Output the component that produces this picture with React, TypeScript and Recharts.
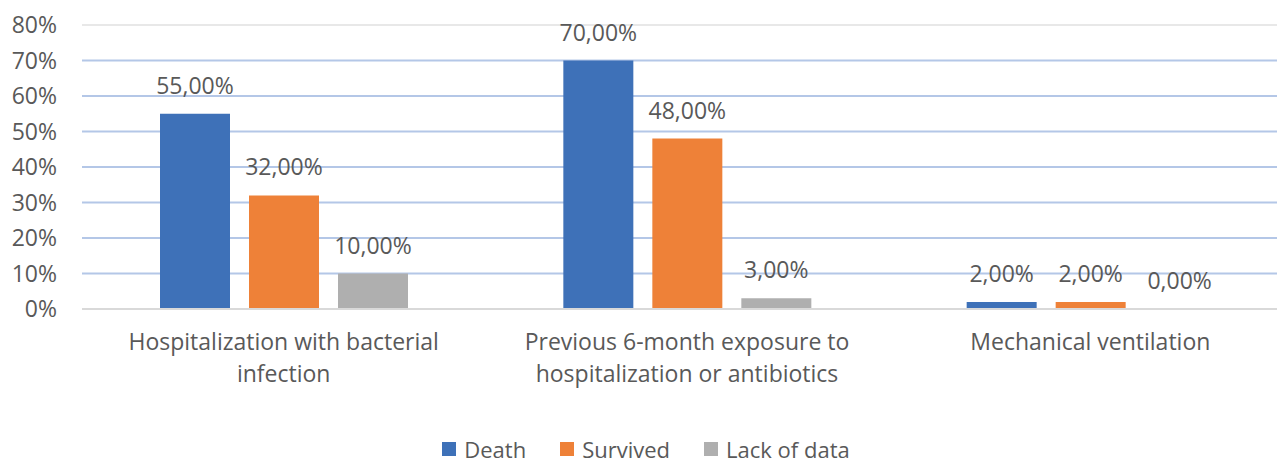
import { BarChart, Bar, XAxis, YAxis, CartesianGrid, Legend, LabelList, ReferenceLine } from 'recharts';

const categories = [
  'Hospitalization with bacterial|infection',
  'Previous 6-month exposure to|hospitalization or antibiotics',
  'Mechanical ventilation',
];
const death = [55, 70, 2];
const survived = [32, 48, 2];
const lackOfData = [10, 3, 0];
const yTicks = [0, 10, 20, 30, 40, 50, 60, 70, 80];

const seriesInfo = [
  { key: 'death', name: 'Death', color: '#3E71B8' },
  { key: 'survived', name: 'Survived', color: '#EE8138' },
  { key: 'lack', name: 'Lack of data', color: '#AFAFAF' },
];

const data = categories.map((c, i) => ({
  category: c,
  death: death[i],
  survived: survived[i],
  lack: lackOfData[i],
}));

const FONT = '"Open Sans", Lato, sans-serif';
const FS = 23;
const fmt = (v: number) => `${v.toFixed(2).replace('.', ',')}%`;

function CategoryTick({ x, y, payload }: any) {
  const lines = String(payload.value).split('|');
  return (
    <text x={x} y={y} textAnchor="middle" fill="#595959" fontSize={FS} fontFamily={FONT}>
      {lines.map((l, i) => (
        <tspan key={i} x={x} dy={i === 0 ? 41 : 32}>
          {l}
        </tspan>
      ))}
    </text>
  );
}

function LegendContent() {
  return (
    <div style={{ display: 'flex', justifyContent: 'center', alignItems: 'center', gap: 34, paddingTop: 2, height: 28, lineHeight: '28px', fontFamily: FONT, fontSize: 22, color: '#595959' }}>
      {seriesInfo.map((s) => (
        <div key={s.key} style={{ display: 'flex', alignItems: 'center', gap: 8 }}>
          <span style={{ display: 'inline-block', width: 14, height: 14, background: s.color }} />
          <span>{s.name}</span>
        </div>
      ))}
    </div>
  );
}

export default function App() {
  return (
    <div style={{ position: 'absolute', left: 0, top: 0, width: 1277, height: 465, overflow: 'hidden', background: '#fff' }}>
      <BarChart
        width={1300}
        height={465}
        data={data}
        margin={{ top: 25, right: 8, bottom: 0, left: 0 }}
        barGap={19}
      >
        <CartesianGrid vertical={false} stroke="#B4C7E7" strokeWidth={2} />
        <XAxis
          dataKey="category"
          height={124}
          tickLine={false}
          tickSize={0}
          tickMargin={0}
          axisLine={{ stroke: '#D9D9D9', strokeWidth: 2 }}
          tick={<CategoryTick />}
          interval={0}
        />
        <YAxis
          width={82}
          domain={[0, 80]}
          ticks={yTicks}
          interval={0}
          tickFormatter={(v: number) => `${v}%`}
          axisLine={false}
          tickLine={false}
          tickSize={0}
          tickMargin={25}
          tick={{ fill: '#595959', fontSize: FS, fontFamily: FONT }}
        />
        <ReferenceLine y={80} stroke="#E8E8E8" strokeWidth={2} />
        <Legend verticalAlign="bottom" height={32} content={<LegendContent />} />
        {seriesInfo.map((s) => (
          <Bar key={s.key} dataKey={s.key} name={s.name} fill={s.color} barSize={70} minPointSize={0.01} isAnimationActive={false}>
            <LabelList
              dataKey={s.key}
              position="top"
              offset={20}
              formatter={(v: any) => fmt(Number(v))}
              style={{ fill: '#595959', fontSize: FS, fontFamily: FONT }}
            />
          </Bar>
        ))}
      </BarChart>
    </div>
  );
}
